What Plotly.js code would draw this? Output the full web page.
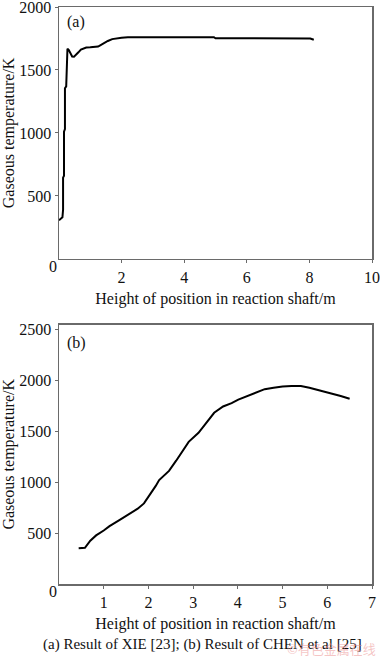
<!DOCTYPE html>
<html>
<head>
<meta charset="utf-8">
<script src="https://cdn.plot.ly/plotly-3.0.1.min.js"></script>
<style>html,body{margin:0;padding:0;background:#fff;}#chart{width:380px;height:658px;}</style>
</head>
<body>
<div id="chart"></div>
<script>
// Panel (a): Result of XIE [23]
const xA = [0, 0.08, 0.11, 0.13, 0.13, 0.16, 0.16, 0.19, 0.19, 0.23, 0.25, 0.27, 0.31, 0.36, 0.42, 0.48, 0.55, 0.62, 0.70, 0.78, 0.87, 1.0, 1.1, 1.25, 1.33, 1.42, 1.56, 1.70, 1.80, 2.0, 2.2, 3.0, 4.0, 4.95, 5.0, 6.0, 7.0, 8.03, 8.14];
const tA = [307, 320, 330, 390, 645, 660, 1010, 1030, 1355, 1370, 1650, 1668, 1660, 1630, 1607, 1605, 1620, 1640, 1662, 1672, 1678, 1680, 1683, 1686, 1697, 1712, 1730, 1745, 1750, 1756, 1760, 1760, 1760, 1760, 1752, 1752, 1752, 1750, 1740];

// Panel (b): Result of CHEN et al [25]
const xB = [0.44, 0.58, 0.70, 0.83, 1.0, 1.13, 1.35, 1.57, 1.76, 1.90, 2.01, 2.16, 2.24, 2.46, 2.62, 2.75, 2.90, 3.12, 3.34, 3.47, 3.67, 3.86, 4.01, 4.23, 4.41, 4.60, 4.80, 5.0, 5.2, 5.41, 5.60, 5.78, 6.0, 6.15, 6.30, 6.5];
const tB = [350, 355, 425, 477, 525, 568, 627, 683, 739, 791, 860, 960, 1020, 1110, 1210, 1300, 1395, 1484, 1614, 1680, 1742, 1775, 1810, 1850, 1876, 1912, 1925, 1938, 1942, 1942, 1925, 1905, 1885, 1862, 1845, 1818];

const xTicksA = [2, 4, 6, 8, 10];
const yTicksA = [500, 1000, 1500, 2000];
const xTicksB = [1, 2, 3, 4, 5, 6, 7];
const yTicksB = [500, 1000, 1500, 2000, 2500];

const xTitle = 'Height of position in reaction shaft/m';
const yTitle = 'Gaseous temperature/K';
const caption = '(a) Result of XIE [23]; (b) Result of CHEN et al [25]';
const watermark = '©有色金属在线';

const FONT = '"Liberation Serif", "Times New Roman", serif';
const AX = '#6a6a6a';

function axisX(range, ticks, anchor) {
  return {
    range: range, anchor: anchor, tickvals: ticks, ticktext: ticks.map(String),
    showgrid: false, zeroline: false, showline: true, mirror: true,
    linecolor: AX, linewidth: 1.5, ticks: 'outside', ticklen: 3, tickcolor: AX, tickwidth: 1,
    ticklabeloverflow: 'allow',
    tickfont: {family: FONT, size: 16, color: '#111'},
    title: {text: xTitle, font: {family: FONT, size: 16, color: '#111'}, standoff: 8}
  };
}
function axisY(range, ticks, domain, anchor) {
  return {
    range: range, domain: domain, anchor: anchor, tickvals: ticks, ticktext: ticks.map(String),
    showgrid: false, zeroline: false, showline: true, mirror: true,
    linecolor: AX, linewidth: 1.5, ticks: 'outside', ticklen: 3, tickcolor: AX, tickwidth: 1,
    ticklabeloverflow: 'allow',
    tickfont: {family: FONT, size: 16, color: '#111'},
    title: {text: yTitle, font: {family: FONT, size: 16, color: '#111'}, standoff: 5}
  };
}

const data = [
  {x: xA, y: tA, type: 'scatter', mode: 'lines', line: {color: '#000', width: 2}, xaxis: 'x', yaxis: 'y', hoverinfo: 'skip'},
  {x: xB, y: tB, type: 'scatter', mode: 'lines', line: {color: '#000', width: 2}, xaxis: 'x2', yaxis: 'y2', hoverinfo: 'skip'}
];

const layout = {
  width: 380, height: 658,
  margin: {l: 59, r: 8, t: 7, b: 74},
  paper_bgcolor: '#fff', plot_bgcolor: '#fff',
  showlegend: false,
  font: {family: FONT, color: '#111'},
  xaxis: axisX([0, 10], xTicksA, 'y'),
  yaxis: axisY([0, 2000], yTicksA, [0.5635, 1], 'x'),
  xaxis2: axisX([0, 7], xTicksB, 'y2'),
  yaxis2: axisY([0, 2545], yTicksB, [0, 0.4495], 'x2'),
  annotations: [
    {text: '(a)', xref: 'x domain', yref: 'y domain', x: 0.02, y: 0.94, xanchor: 'left', yanchor: 'middle', showarrow: false, font: {family: FONT, size: 16, color: '#111'}},
    {text: '(b)', xref: 'x2 domain', yref: 'y2 domain', x: 0.02, y: 0.93, xanchor: 'left', yanchor: 'middle', showarrow: false, font: {family: FONT, size: 16, color: '#111'}},
    {text: '0', xref: 'x domain', yref: 'y domain', x: -0.02, y: -0.03, xanchor: 'center', yanchor: 'middle', showarrow: false, font: {family: FONT, size: 16, color: '#111'}},
    {text: '0', xref: 'x2 domain', yref: 'y2 domain', x: -0.02, y: -0.03, xanchor: 'center', yanchor: 'middle', showarrow: false, font: {family: FONT, size: 16, color: '#111'}},
    {text: caption, xref: 'paper', yref: 'paper', x: 0.46, y: -0.105, xanchor: 'center', yanchor: 'middle', showarrow: false, font: {family: FONT, size: 15, color: '#111'}},
    {text: watermark, xref: 'paper', yref: 'paper', x: 1.02, y: -0.112, xanchor: 'right', yanchor: 'middle', showarrow: false, font: {family: '"Noto Sans CJK SC", sans-serif', size: 13, color: 'rgba(235,140,140,0.5)'}}
  ]
};

Plotly.newPlot('chart', data, layout, {staticPlot: true, displayModeBar: false});
</script>
</body>
</html>
